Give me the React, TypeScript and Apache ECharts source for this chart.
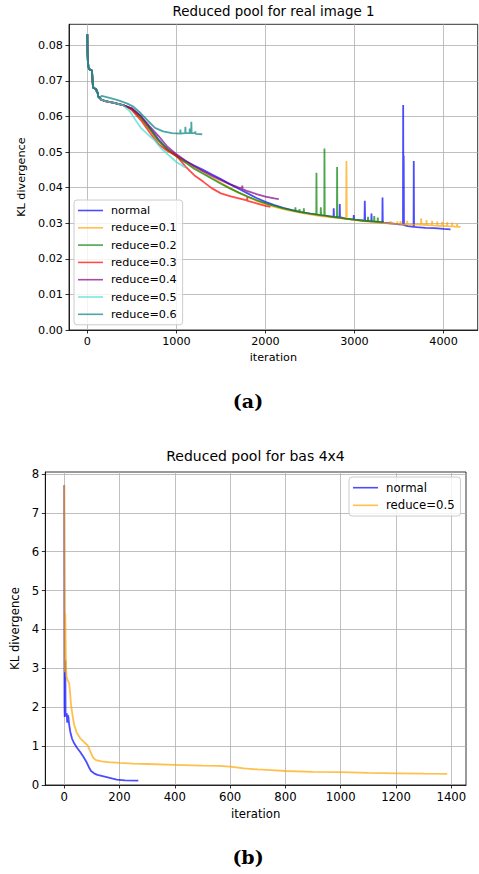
import React, { useEffect, useRef } from "react";
import * as echarts from "echarts";

// ---------- Chart (a): Reduced pool for real image 1 ----------
const xTicksA = [0, 1000, 2000, 3000, 4000];
const yTicksA = [0, 0.01, 0.02, 0.03, 0.04, 0.05, 0.06, 0.07, 0.08];
const namesA = ["normal", "reduce=0.1", "reduce=0.2", "reduce=0.3", "reduce=0.4", "reduce=0.5", "reduce=0.6"];
const colorsA = [
  "rgba(0,0,255,0.7)",
  "rgba(255,165,0,0.7)",
  "rgba(0,128,0,0.7)",
  "rgba(255,0,0,0.7)",
  "rgba(128,0,128,0.7)",
  "rgba(64,224,208,0.7)",
  "rgba(0,128,128,0.7)",
];

// shared beginning of every run (iteration, KL)
const commonStartA: number[][] = [
  [0, 0.0831], [2, 0.078], [6, 0.0755], [12, 0.074], [20, 0.0733], [52, 0.0729],
  [56, 0.0712], [62, 0.0688], [68, 0.068], [100, 0.0677], [106, 0.0669], [115, 0.0668],
  [122, 0.0656], [140, 0.0652], [150, 0.0648], [200, 0.0643], [300, 0.0638], [400, 0.0632], [450, 0.0627],
];

const normalTailA: number[][] = [
  [500, 0.0622], [600, 0.06], [700, 0.0568], [800, 0.0535], [900, 0.0508], [1000, 0.049],
  [1100, 0.0475], [1200, 0.0462], [1300, 0.045], [1400, 0.0437], [1500, 0.0424], [1600, 0.041],
  [1700, 0.0397], [1800, 0.0384], [1900, 0.0371], [2000, 0.036], [2100, 0.0351], [2200, 0.0343],
  [2300, 0.0337], [2400, 0.0331], [2500, 0.0327], [2600, 0.0323], [2700, 0.032],
  [2765, 0.0318], [2767, 0.0342], [2770, 0.0318], [2833, 0.0317], [2835, 0.0354], [2838, 0.0317],
  [2900, 0.0313], [2990, 0.031], [2992, 0.0323], [2995, 0.031], [3113, 0.0307], [3116, 0.0363],
  [3120, 0.0307], [3189, 0.0305], [3191, 0.0327], [3194, 0.0305], [3313, 0.0302], [3315, 0.0372],
  [3318, 0.0302], [3400, 0.03], [3500, 0.0297], [3545, 0.0296], [3547, 0.0632], [3550, 0.0296],
  [3553, 0.049], [3556, 0.0295], [3600, 0.0292], [3664, 0.029], [3666, 0.0475], [3669, 0.029],
  [3700, 0.0289], [3800, 0.0287], [3900, 0.0286], [4000, 0.0284], [4079, 0.0283],
];

const reduce01TailA: number[][] = [
  [500, 0.062], [600, 0.0596], [700, 0.0563], [800, 0.053], [900, 0.0506], [1000, 0.0488],
  [1100, 0.0472], [1200, 0.0457], [1300, 0.0443], [1400, 0.0428], [1500, 0.0414], [1600, 0.0399],
  [1700, 0.0386], [1800, 0.0374], [1900, 0.0363], [2000, 0.0354], [2100, 0.0346], [2200, 0.034],
  [2300, 0.0334], [2400, 0.0329], [2500, 0.0325], [2600, 0.0321], [2700, 0.0318], [2800, 0.0315],
  [2906, 0.0312], [2910, 0.0475], [2914, 0.0312], [3000, 0.0309], [3100, 0.0306], [3200, 0.0303],
  [3300, 0.0301], [3403, 0.0299], [3405, 0.0306], [3408, 0.0299], [3478, 0.0298], [3480, 0.0305],
  [3483, 0.0298], [3515, 0.0298], [3517, 0.0306], [3520, 0.0297], [3590, 0.0297], [3592, 0.0307],
  [3595, 0.0297], [3747, 0.0296], [3749, 0.0314], [3752, 0.0296], [3807, 0.0295], [3809, 0.0309],
  [3812, 0.0295], [3870, 0.0294], [3872, 0.0307], [3875, 0.0294], [3927, 0.0293], [3929, 0.0305],
  [3932, 0.0293], [3983, 0.0293], [3985, 0.0304], [3988, 0.0292], [4039, 0.0292], [4041, 0.0303],
  [4044, 0.0292], [4095, 0.0291], [4097, 0.0302], [4100, 0.0291], [4151, 0.029], [4153, 0.0299],
  [4156, 0.029], [4191, 0.029],
];

const reduce02TailA: number[][] = [
  [500, 0.0621], [600, 0.0597], [700, 0.0565], [800, 0.0532], [900, 0.0507], [1000, 0.0488],
  [1100, 0.0471], [1200, 0.0453], [1300, 0.0439], [1400, 0.0425], [1500, 0.0411], [1600, 0.0398],
  [1700, 0.0386], [1800, 0.0375], [1900, 0.0365], [2000, 0.0356], [2100, 0.0349], [2200, 0.0342],
  [2300, 0.0336], [2335, 0.0334], [2337, 0.0345], [2340, 0.0334], [2380, 0.0332], [2383, 0.034],
  [2386, 0.0332], [2429, 0.033], [2431, 0.0342], [2434, 0.033], [2500, 0.0327], [2571, 0.0325],
  [2573, 0.0442], [2576, 0.0325], [2620, 0.0323], [2622, 0.0345], [2625, 0.0323], [2661, 0.0322],
  [2663, 0.051], [2666, 0.0322], [2700, 0.032], [2803, 0.0316], [2805, 0.0458], [2808, 0.0316],
  [2900, 0.0313], [3000, 0.031], [3100, 0.0307], [3150, 0.0306], [3152, 0.0318], [3155, 0.0306],
  [3220, 0.0305], [3222, 0.032], [3225, 0.0305], [3260, 0.0304], [3262, 0.0316], [3265, 0.0304],
  [3330, 0.0304],
];

const reduce03TailA: number[][] = [
  [500, 0.0618], [600, 0.059], [700, 0.0555], [800, 0.0522], [900, 0.0503], [1000, 0.049],
  [1100, 0.046], [1200, 0.0435], [1300, 0.0417], [1400, 0.0398], [1500, 0.0384], [1600, 0.0376],
  [1700, 0.037], [1793, 0.0364], [1795, 0.0373], [1798, 0.0363], [1900, 0.0356], [2000, 0.0349],
  [2056, 0.0346],
];

const reduce04TailA: number[][] = [
  [500, 0.0623], [600, 0.0602], [700, 0.0572], [800, 0.0545], [900, 0.0515], [1000, 0.0494],
  [1100, 0.0476], [1200, 0.046], [1300, 0.0446], [1400, 0.0433], [1500, 0.0421], [1600, 0.041],
  [1700, 0.04], [1738, 0.0397], [1740, 0.0406], [1743, 0.0396], [1800, 0.039], [1900, 0.0382],
  [2000, 0.0375], [2100, 0.037], [2150, 0.0368],
];

const reduce05TailA: number[][] = [
  [480, 0.0614], [520, 0.0598], [600, 0.0568], [700, 0.0545], [760, 0.0532], [830, 0.051],
  [900, 0.0494], [1000, 0.0472], [1100, 0.0457],
];

const reduce06TailA: number[][] = [
  [160, 0.0658], [250, 0.0652], [350, 0.0645], [450, 0.0636], [520, 0.0627], [600, 0.0609],
  [680, 0.0588], [760, 0.0568], [850, 0.0558], [950, 0.0553], [1043, 0.0552], [1045, 0.0563],
  [1048, 0.0552], [1099, 0.0553], [1101, 0.0571], [1104, 0.0553], [1148, 0.0553], [1150, 0.0566],
  [1153, 0.0553], [1166, 0.0553], [1168, 0.0585], [1171, 0.0553], [1211, 0.0553], [1213, 0.0558],
  [1216, 0.0551], [1290, 0.055],
];

// ---------- Chart (b): Reduced pool for bas 4x4 ----------
const xTicksB = [0, 200, 400, 600, 800, 1000, 1200, 1400];
const yTicksB = [0, 1, 2, 3, 4, 5, 6, 7, 8];
const namesB = ["normal", "reduce=0.5"];
const colorsB = ["rgba(0,0,255,0.7)", "rgba(255,165,0,0.7)"];

const normalB: number[][] = [
  [0, 7.71], [1, 2.05], [2, 1.75], [3, 2.1], [4, 3.2], [5, 1.8], [7, 1.78], [9, 1.85], [11, 1.6],
  [13, 1.8], [15, 1.76], [18, 1.55], [22, 1.37], [28, 1.2], [34, 1.1], [45, 0.97], [58, 0.85],
  [70, 0.72], [80, 0.6], [90, 0.45], [97, 0.36], [108, 0.3], [120, 0.26], [150, 0.21],
  [190, 0.14], [220, 0.12], [268, 0.11],
];

const reduce05B: number[][] = [
  [0, 7.71], [2, 2.9], [4, 4.42], [6, 3.3], [8, 2.8], [12, 2.7], [18, 2.62], [21, 2.4], [25, 2.05],
  [30, 1.8], [36, 1.55], [45, 1.35], [58, 1.2], [72, 1.1], [85, 1.02], [95, 0.85], [105, 0.7],
  [115, 0.64], [135, 0.61], [160, 0.59], [200, 0.57], [250, 0.55], [300, 0.54], [400, 0.52],
  [500, 0.5], [560, 0.49], [600, 0.47], [650, 0.43], [700, 0.4], [750, 0.38], [800, 0.36],
  [900, 0.34], [1000, 0.33], [1100, 0.31], [1200, 0.3], [1300, 0.29], [1385, 0.285],
];

const FONT = "DejaVu Sans";
const LINE_W = 1.8;

function axisCommon(fontSize: number) {
  return {
    axisLine: { show: true, onZero: false, lineStyle: { color: "#000", width: 0.8 } },
    splitLine: { show: true, lineStyle: { color: "#b0b0b0", width: 0.8 } },
    nameTextStyle: { color: "#000", fontSize, fontFamily: FONT },
  };
}

export default function App() {
  const ref = useRef<HTMLDivElement>(null);

  useEffect(() => {
    if (!ref.current) return;
    const chart = echarts.init(ref.current, null, { renderer: "svg" });

    const dataA = [
      commonStartA.concat(normalTailA),
      commonStartA.concat(reduce01TailA),
      commonStartA.concat(reduce02TailA),
      commonStartA.concat(reduce03TailA),
      commonStartA.concat(reduce04TailA),
      commonStartA.slice(0, 18).concat(reduce05TailA),
      commonStartA.slice(0, 14).concat(reduce06TailA),
    ];
    const dataB = [normalB, reduce05B];

    const fsA = 11.2;
    const fsB = 11.7;

    const series: any[] = [];
    namesA.forEach((n, i) => {
      series.push({
        type: "line", name: n, xAxisIndex: 0, yAxisIndex: 0, data: dataA[i],
        symbol: "none", showSymbol: false, silent: true,
        lineStyle: { color: colorsA[i], width: LINE_W }, itemStyle: { color: colorsA[i] },
      });
    });
    namesB.forEach((n, i) => {
      series.push({
        type: "line", name: n, xAxisIndex: 1, yAxisIndex: 1, data: dataB[i],
        symbol: "none", showSymbol: false, silent: true,
        lineStyle: { color: colorsB[i], width: LINE_W }, itemStyle: { color: colorsB[i] },
      });
    });

    const legendCommon = {
      orient: "vertical",
      icon: "rect",
      itemWidth: 25,
      itemHeight: 1.6,
      backgroundColor: "rgba(255,255,255,0.8)",
      borderColor: "#cccccc",
      borderWidth: 1,
      borderRadius: 3,
      selectedMode: false,
    };

    const intFmt = (v: number) => String(Math.round(v));

    chart.setOption({
      animation: false,
      title: [
        {
          text: "Reduced pool for real image 1", left: 273.5, top: 5, padding: 0, textAlign: "center",
          textStyle: { fontSize: 13.4, fontWeight: "normal", color: "#000", fontFamily: FONT },
        },
        {
          text: "Reduced pool for bas 4x4", left: 255.5, top: 449, padding: 0, textAlign: "center",
          textStyle: { fontSize: 14, fontWeight: "normal", color: "#000", fontFamily: FONT },
        },
      ],
      legend: [
        {
          ...legendCommon,
          left: 74, top: 200, padding: [4, 6, 4, 4], itemGap: 4.3,
          textStyle: { fontSize: fsA, fontFamily: FONT, color: "#000", lineHeight: 13, padding: [0, 0, 0, 3] },
          data: namesA.map((n, i) => ({ name: n, itemStyle: { color: colorsA[i] } })),
        },
        {
          ...legendCommon,
          left: 349, top: 477, padding: [4, 6, 4, 4], itemGap: 4.2,
          textStyle: { fontSize: fsB, fontFamily: FONT, color: "#000", lineHeight: 13.4, padding: [0, 0, 0, 3] },
          data: namesB.map((n, i) => ({ name: n, itemStyle: { color: colorsB[i] } })),
        },
      ],
      grid: [
        { left: 69, top: 24.3, width: 408.7, height: 305.7, show: true, borderColor: "#000", borderWidth: 0.8, backgroundColor: "transparent" },
        { left: 45.3, top: 472, width: 420.7, height: 313, show: true, borderColor: "#000", borderWidth: 0.8, backgroundColor: "transparent" },
      ],
      xAxis: [
        {
          type: "value", gridIndex: 0, min: -206, max: 4384,
          name: "iteration", nameLocation: "middle", nameGap: 22,
          ...axisCommon(fsA),
          axisTick: { show: true, length: 3.5, customValues: xTicksA, lineStyle: { color: "#000", width: 0.8 } },
          axisLabel: { color: "#000", fontSize: fsA, fontFamily: FONT, margin: 6, customValues: xTicksA, formatter: intFmt },
        },
        {
          type: "value", gridIndex: 1, min: -68.3, max: 1453,
          name: "iteration", nameLocation: "middle", nameGap: 23,
          ...axisCommon(fsB),
          axisTick: { show: true, length: 3.5, customValues: xTicksB, lineStyle: { color: "#000", width: 0.8 } },
          axisLabel: { color: "#000", fontSize: fsB, fontFamily: FONT, margin: 6, customValues: xTicksB, formatter: intFmt },
        },
      ],
      yAxis: [
        {
          type: "value", gridIndex: 0, min: 0, max: 0.0859,
          name: "KL divergence", nameLocation: "middle", nameGap: 40,
          ...axisCommon(fsA),
          axisTick: { show: true, length: 3.5, customValues: yTicksA, lineStyle: { color: "#000", width: 0.8 } },
          axisLabel: {
            color: "#000", fontSize: fsA, fontFamily: FONT, margin: 6, customValues: yTicksA,
            formatter: (v: number) => v.toFixed(2),
          },
        },
        {
          type: "value", gridIndex: 1, min: 0, max: 8.05,
          name: "KL divergence", nameLocation: "middle", nameGap: 20,
          ...axisCommon(fsB),
          axisTick: { show: true, length: 3.5, customValues: yTicksB, lineStyle: { color: "#000", width: 0.8 } },
          axisLabel: { color: "#000", fontSize: fsB, fontFamily: FONT, margin: 6, customValues: yTicksB, formatter: intFmt },
        },
      ],
      graphic: [
        {
          type: "text", x: 248, y: 401,
          style: { text: "(a)", fontSize: 19, fontWeight: "bold", fontFamily: "DejaVu Serif", fill: "#000", align: "center", verticalAlign: "middle" },
        },
        {
          type: "text", x: 248, y: 857,
          style: { text: "(b)", fontSize: 19, fontWeight: "bold", fontFamily: "DejaVu Serif", fill: "#000", align: "center", verticalAlign: "middle" },
        },
      ],
      series,
    });

    return () => chart.dispose();
  }, []);

  return (
    <div
      ref={ref}
      style={{ position: "absolute", left: 0, top: 0, width: 479, height: 874, background: "#fff" }}
    />
  );
}
